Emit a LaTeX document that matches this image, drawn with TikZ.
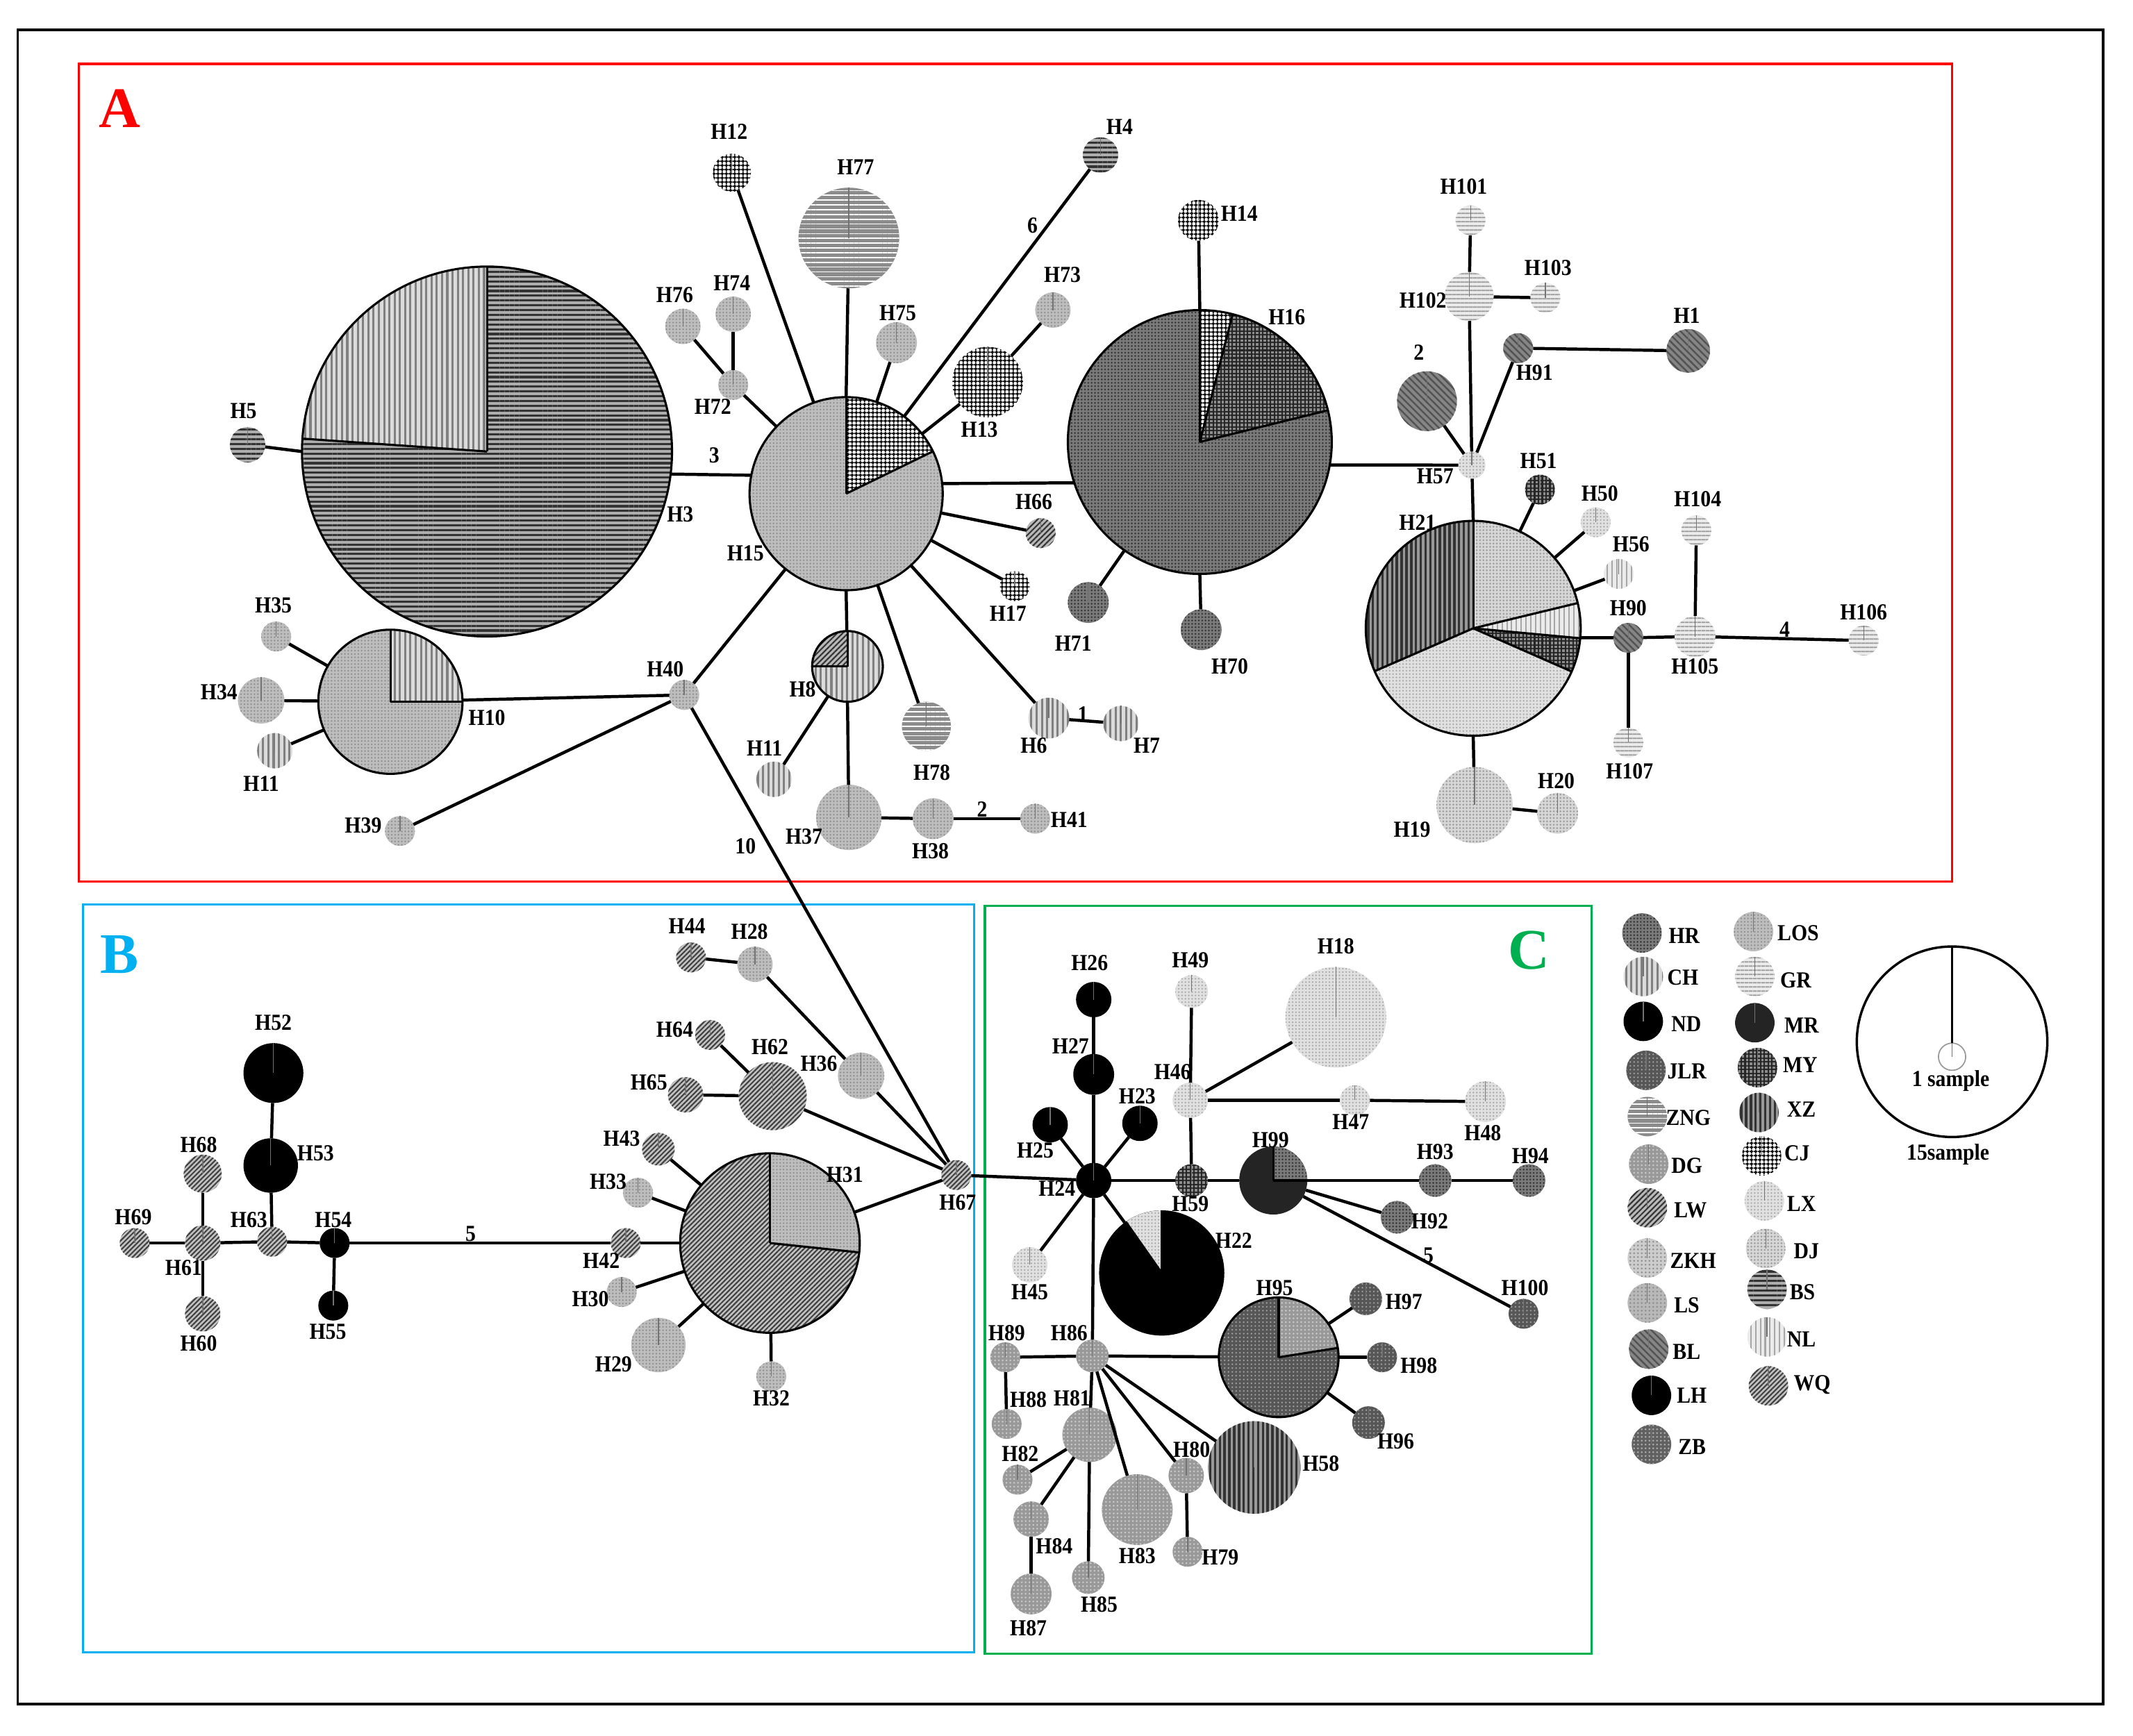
\documentclass[tikz,border=0pt]{standalone}
\usepackage{fontspec}
\setmainfont{Liberation Serif}
\newfontfamily\labf[FakeStretch=0.9]{Liberation Serif}
\usetikzlibrary{patterns.meta}
\definecolor{colA}{RGB}{255,0,0}
\definecolor{colB}{RGB}{0,176,240}
\definecolor{colC}{RGB}{0,176,80}
\tikzset{
  hapn/.style={circle, inner sep=0pt, outer sep=0pt},
  bold/.style={draw=black, line width=0.45pt},
  radl/.style={draw=black!55, line width=0.2pt},
  edge/.style={line width=0.65pt, draw=black},
  sep/.style={line width=0.45pt, draw=black},
  labn/.style={font=\fontsize{4.8}{5}\labf\bfseries, inner sep=0pt},
  bigl/.style={font=\fontsize{12}{12}\selectfont\bfseries, inner sep=0pt},
  frameA/.style={draw=colA, line width=0.45pt},
  frameB/.style={draw=colB, line width=0.45pt},
  frameC/.style={draw=colC, line width=0.45pt},
  pHR/.style={preaction={fill=black!52}, pattern={Dots[radius=0.2pt,distance=0.7pt]}, pattern color=black!80},
  pCH/.style={preaction={fill=black!14}, pattern={Lines[angle=90,distance=1.1pt,line width=0.45pt]}, pattern color=black!50},
  pND/.style={fill=black},
  pJLR/.style={preaction={fill=black!66}, pattern={Dots[radius=0.18pt,distance=0.8pt]}, pattern color=black!35},
  pZNG/.style={preaction={fill=black!45}, pattern={Lines[angle=0,distance=1pt,line width=0.25pt]}, pattern color=white},
  pDG/.style={preaction={fill=black!40}, pattern={Dots[radius=0.2pt,distance=0.8pt]}, pattern color=black!20},
  pLW/.style={preaction={fill=black!28}, pattern={Lines[angle=45,distance=0.8pt,line width=0.3pt]}, pattern color=black!80},
  pZKH/.style={preaction={fill=black!20}, pattern={Dots[radius=0.2pt,distance=0.8pt]}, pattern color=black!45},
  pLS/.style={preaction={fill=black!28}, pattern={Dots[radius=0.2pt,distance=0.8pt]}, pattern color=black!45},
  pBL/.style={preaction={fill=black!48}, pattern={Lines[angle=-45,distance=1pt,line width=0.35pt]}, pattern color=black!68},
  pLH/.style={fill=black},
  pZB/.style={preaction={fill=black!62}, pattern={Dots[radius=0.2pt,distance=0.8pt]}, pattern color=black!30},
  pLOS/.style={preaction={fill=black!26}, pattern={Dots[radius=0.18pt,distance=0.7pt]}, pattern color=black!45},
  pGR/.style={preaction={fill=black!8}, pattern={Lines[angle=0,distance=0.9pt,line width=0.3pt]}, pattern color=black!40},
  pMR/.style={fill=black!86},
  pMY/.style={preaction={fill=black!45}, pattern={Hatch[angle=0,distance=0.8pt,line width=0.3pt]}, pattern color=black!85},
  pXZ/.style={preaction={fill=black!40}, pattern={Lines[angle=90,distance=1pt,line width=0.5pt]}, pattern color=black!80},
  pCJ/.style={preaction={fill=white}, pattern={Hatch[angle=0,distance=0.9pt,line width=0.3pt]}, pattern color=black},
  pLX/.style={preaction={fill=black!12}, pattern={Dots[radius=0.18pt,distance=0.7pt]}, pattern color=black!35},
  pDJ/.style={preaction={fill=black!16}, pattern={Dots[radius=0.2pt,distance=0.7pt]}, pattern color=black!40},
  pBS/.style={preaction={fill=black!32}, pattern={Lines[angle=0,distance=1pt,line width=0.45pt]}, pattern color=black!80},
  pNL/.style={preaction={fill=black!8}, pattern={Lines[angle=90,distance=1pt,line width=0.3pt]}, pattern color=black!35},
  pWQ/.style={preaction={fill=black!24}, pattern={Lines[angle=45,distance=0.7pt,line width=0.3pt]}, pattern color=black!75},
}
% name, x, y, radius, population style
\newcommand\hap[5]{%
  \node[hapn,#5,minimum size=#4*0.02cm] (#1) at (#2,-#3) {};
  \draw[radl] (#1.north) -- (#1.center);}
% node, radius, start angle, end angle, style
\newcommand\pslice[5]{\path[#5] (#1.center) -- ++(#3:#2) arc[start angle=#3,end angle=#4,radius=#2] -- cycle;}
\newcommand\sepl[3]{\draw[sep] (#1.center) -- ++(#3:#2);}
\newcommand\outl[2]{\draw[bold] (#1.center) circle[radius=#2];}
% name, text, x, y
\newcommand\hlab[4]{\node[labn] (#1) at (#3,-#4) {#2};}
\newcommand\legw[4]{\node[labn, anchor=west] (#1) at (#3,-#4) {#2};}
\begin{document}
\begin{tikzpicture}[x=0.01cm,y=0.01cm]
\useasboundingbox (0,0) rectangle (1568,-1276);
\fill[white] (0,0) rectangle (1568,-1276);
% frames
\draw[line width=0.5pt] (13,-22) rectangle (1546,-1253);
\draw[frameA] (58,-47) rectangle (1435,-648);
\draw[frameB] (61,-665) rectangle (716,-1215);
\draw[frameC] (724,-666) rectangle (1170,-1216);
\node[bigl, text=colA] (lettA) at (88,-80) {A};
\node[bigl, text=colB] (lettB) at (88,-702) {B};
\node[bigl, text=colC] (lettC) at (1124,-699) {C};

% ================= nodes A =================
\hap{H3}{358}{332}{136}{pBS}
\hap{H5}{182}{327}{13}{pBS}
\hap{H15}{622}{363}{71}{pLOS}
\hap{H12}{538}{127}{14}{pCJ}
\hap{H77}{624}{175}{37}{pZNG}
\hap{H4}{809}{114}{13}{pBS}
\hap{H76}{502}{240}{13}{pLOS}
\hap{H74}{539}{231}{13}{pLOS}
\hap{H72}{539}{283}{11}{pLOS}
\hap{H75}{659}{252}{15}{pLOS}
\hap{H73}{774}{228}{13}{pLOS}
\hap{H13}{726}{281}{26}{pCJ}
\hap{H66}{765}{392}{11}{pLW}
\hap{H17}{746}{431}{11}{pCJ}
\hap{H16}{882}{325}{97}{pHR}
\hap{H71}{800}{443}{15}{pHR}
\hap{H70}{883}{463}{15}{pHR}
\hap{H14}{881}{162}{15}{pCJ}
\hap{H57}{1082}{342}{10}{pLX}
\hap{H2}{1049}{295}{22}{pBL}
\hap{H102}{1080}{218}{18}{pGR}
\hap{H101}{1081}{162}{11}{pGR}
\hap{H103}{1136}{219}{11}{pGR}
\hap{H91}{1116}{256}{11}{pBL}
\hap{H1}{1241}{258}{16}{pBL}
\hap{H21}{1083}{462}{79}{pLX}
\hap{H51}{1132}{360}{11}{pMY}
\hap{H50}{1173}{384}{11}{pLX}
\hap{H56}{1190}{422}{11}{pNL}
\hap{H90}{1197}{469}{11}{pBL}
\hap{H105}{1246}{468}{15}{pGR}
\hap{H104}{1247}{390}{11}{pGR}
\hap{H106}{1370}{471}{11}{pGR}
\hap{H107}{1197}{546}{11}{pGR}
\hap{H19}{1084}{592}{28}{pDJ}
\hap{H20}{1145}{598}{15}{pDJ}
\hap{H10}{287}{516}{53}{pLOS}
\hap{H35}{203}{468}{11}{pLOS}
\hap{H34}{192}{515}{17}{pLOS}
\hap{H11a}{202}{552}{13}{pCH}
\hap{H40}{503}{511}{11}{pLOS}
\hap{H39}{294}{611}{11}{pLOS}
\hap{H8}{623}{490}{26}{pCH}
\hap{H11b}{569}{573}{13}{pCH}
\hap{H37}{624}{601}{24}{pLOS}
\hap{H38}{686}{602}{15}{pLOS}
\hap{H41}{761}{602}{11}{pLOS}
\hap{H78}{681}{534}{18}{pZNG}
\hap{H6}{771}{528}{15}{pCH}
\hap{H7}{824}{532}{13}{pCH}

% pies A
\pslice{H3}{136}{90}{176}{pCH}
\sepl{H3}{136}{90}\sepl{H3}{136}{176}\outl{H3}{136}
\pslice{H15}{71}{26}{90}{pCJ}
\sepl{H15}{71}{90}\sepl{H15}{71}{26}\outl{H15}{71}
\pslice{H16}{97}{13.9}{75.6}{pMY}
\pslice{H16}{97}{75.6}{90}{pCJ}
\sepl{H16}{97}{90}\sepl{H16}{97}{75.6}\sepl{H16}{97}{13.9}\outl{H16}{97}
\pslice{H21}{79}{90}{203.5}{pXZ}
\pslice{H21}{79}{-23.7}{-5.3}{pMY}
\pslice{H21}{79}{-5.3}{13.6}{pNL}
\pslice{H21}{79}{13.6}{90}{pDJ}
\sepl{H21}{79}{90}\sepl{H21}{79}{203.5}\sepl{H21}{79}{-23.7}\sepl{H21}{79}{-5.3}\sepl{H21}{79}{13.6}\outl{H21}{79}
\pslice{H10}{53}{0}{90}{pCH}
\sepl{H10}{53}{0}\sepl{H10}{53}{90}\outl{H10}{53}
\pslice{H8}{26}{90}{180}{pLW}
\sepl{H8}{26}{90}\sepl{H8}{26}{180}\outl{H8}{26}

% edges A
\draw[edge] (H5) -- (H3.180);
\draw[edge] (H3.-7) -- (H15.169);
\draw[edge] (H12) -- (H15);
\draw[edge] (H77) -- (H15.90);
\draw[edge] (H4) -- (H15);
\draw[edge] (H72) -- (H15);
\draw[edge] (H76) -- (H72);
\draw[edge] (H74) -- (H72);
\draw[edge] (H75) -- (H15);
\draw[edge] (H13) -- (H15);
\draw[edge] (H73) -- (H13);
\draw[edge] (H15.6.5) -- (H16.198);
\draw[edge] (H66) -- (H15);
\draw[edge] (H17) -- (H15);
\draw[edge] (H8) -- (H15.-90);
\draw[edge] (H78) -- (H15);
\draw[edge] (H6) -- (H15);
\draw[edge] (H6) -- (H7);
\draw[edge] (H40) -- (H15);
\draw[edge] (H10) -- (H40);
\draw[edge] (H39) -- (H40);
\draw[edge] (H35) -- (H10);
\draw[edge] (H34) -- (H10);
\draw[edge] (H11a) -- (H10);
\draw[edge] (H11b) -- (H8);
\draw[edge] (H37) -- (H8.-90);
\draw[edge] (H37) -- (H38);
\draw[edge] (H38) -- (H41);
\draw[edge] (H14) -- (H16.90);
\draw[edge] (H71) -- (H16);
\draw[edge] (H70) -- (H16.-90);
\draw[edge] (H16.-10) -- (H57);
\draw[edge] (H2) -- (H57);
\draw[edge] (H102) -- (H57);
\draw[edge] (H101) -- (H102);
\draw[edge] (H102) -- (H103);
\draw[edge] (H91) -- (H57);
\draw[edge] (H91) -- (H1);
\draw[edge] (H57) -- (H21.90);
\draw[edge] (H51) -- (H21);
\draw[edge] (H50) -- (H21);
\draw[edge] (H56) -- (H21);
\draw[edge] (H21.-5) -- (H90);
\draw[edge] (H90) -- (H105);
\draw[edge] (H104) -- (H105);
\draw[edge] (H105) -- (H106);
\draw[edge] (H90) -- (H107);
\draw[edge] (H21.-90) -- (H19);
\draw[edge] (H19) -- (H20);

% labels A
\hlab{tH3}{H3}{500}{378}
\hlab{tH5}{H5}{179}{302}
\hlab{tH15}{H15}{548}{407}
\hlab{tH12}{H12}{536}{97}
\hlab{tH77}{H77}{629}{123}
\hlab{tH4}{H4}{823}{93}
\hlab{tH76}{H76}{496}{217}
\hlab{tH74}{H74}{538}{208}
\hlab{tH72}{H72}{524}{299}
\hlab{tH75}{H75}{660}{230}
\hlab{tH73}{H73}{781}{202}
\hlab{tH13}{H13}{720}{316}
\hlab{tH66}{H66}{760}{369}
\hlab{tH17}{H17}{741}{451}
\hlab{tH16}{H16}{946}{233}
\hlab{tH71}{H71}{789}{473}
\hlab{tH70}{H70}{904}{490}
\hlab{tH14}{H14}{911}{157}
\hlab{tH57}{H57}{1055}{350}
\hlab{tH2}{2}{1043}{259}
\hlab{tH102}{H102}{1046}{221}
\hlab{tH101}{H101}{1076}{137}
\hlab{tH103}{H103}{1138}{197}
\hlab{tH91}{H91}{1128}{274}
\hlab{tH1}{H1}{1240}{232}
\hlab{tH21}{H21}{1042}{384}
\hlab{tH51}{H51}{1131}{339}
\hlab{tH50}{H50}{1176}{363}
\hlab{tH56}{H56}{1199}{400}
\hlab{tH90}{H90}{1197}{447}
\hlab{tH105}{H105}{1246}{490}
\hlab{tH104}{H104}{1248}{367}
\hlab{tH106}{H106}{1370}{450}
\hlab{tH107}{H107}{1198}{567}
\hlab{tH19}{H19}{1038}{610}
\hlab{tH20}{H20}{1144}{574}
\hlab{tH10}{H10}{358}{528}
\hlab{tH35}{H35}{201}{445}
\hlab{tH34}{H34}{161}{509}
\hlab{tH11a}{H11}{192}{576}
\hlab{tH40}{H40}{489}{492}
\hlab{tH39}{H39}{267}{607}
\hlab{tH8}{H8}{590}{507}
\hlab{tH11b}{H11}{562}{550}
\hlab{tH37}{H37}{591}{615}
\hlab{tH38}{H38}{684}{626}
\hlab{tH41}{H41}{786}{603}
\hlab{tH78}{H78}{685}{568}
\hlab{tH6}{H6}{760}{548}
\hlab{tH7}{H7}{843}{548}
\hlab{n3}{3}{525}{335}
\hlab{n6}{6}{759}{166}
\hlab{n10}{10}{548}{622}
\hlab{n2}{2}{722}{595}
\hlab{n1}{1}{796}{525}
\hlab{n4}{4}{1312}{463}

% ================= nodes B =================
\hap{H52}{201}{789}{22}{pND}
\hap{H53}{199}{857}{20}{pND}
\hap{H63}{200}{913}{11}{pWQ}
\hap{H61}{149}{914}{13}{pWQ}
\hap{H68}{149}{863}{14}{pWQ}
\hap{H69}{99}{914}{11}{pWQ}
\hap{H60}{149}{966}{13}{pWQ}
\hap{H54}{246}{914}{11}{pND}
\hap{H55}{245}{960}{11}{pND}
\hap{H42}{460}{914}{11}{pWQ}
\hap{H31}{566}{914}{66}{pWQ}
\hap{H43}{484}{845}{12}{pWQ}
\hap{H33}{469}{877}{11}{pLOS}
\hap{H30}{457}{950}{11}{pLOS}
\hap{H29}{484}{989}{20}{pLOS}
\hap{H32}{567}{1012}{11}{pLOS}
\hap{H62}{568}{806}{25}{pWQ}
\hap{H64}{522}{761}{11}{pWQ}
\hap{H65}{504}{805}{13}{pWQ}
\hap{H36}{633}{791}{17}{pLOS}
\hap{H28}{555}{709}{13}{pLOS}
\hap{H44}{508}{704}{11}{pWQ}
\hap{H67}{703}{864}{11}{pWQ}

\pslice{H31}{66}{-6}{90}{pLOS}
\sepl{H31}{66}{90}\sepl{H31}{66}{-6}\outl{H31}{66}

\draw[edge] (H52) -- (H53);
\draw[edge] (H53) -- (H63);
\draw[edge] (H69) -- (H61);
\draw[edge] (H68) -- (H61);
\draw[edge] (H61) -- (H60);
\draw[edge] (H61) -- (H63);
\draw[edge] (H63) -- (H54);
\draw[edge] (H54) -- (H55);
\draw[edge] (H54) -- (H42);
\draw[edge] (H42) -- (H31);
\draw[edge] (H43) -- (H31);
\draw[edge] (H33) -- (H31);
\draw[edge] (H30) -- (H31);
\draw[edge] (H29) -- (H31);
\draw[edge] (H32) -- (H31);
\draw[edge] (H31) -- (H67);
\draw[edge] (H62) -- (H67);
\draw[edge] (H64) -- (H62);
\draw[edge] (H65) -- (H62);
\draw[edge] (H36) -- (H67);
\draw[edge] (H28) -- (H36);
\draw[edge] (H44) -- (H28);
\draw[edge] (H40) -- (H67);

\hlab{tH52}{H52}{201}{752}
\hlab{tH53}{H53}{232}{848}
\hlab{tH63}{H63}{183}{897}
\hlab{tH61}{H61}{135}{932}
\hlab{tH68}{H68}{146}{842}
\hlab{tH69}{H69}{98}{895}
\hlab{tH60}{H60}{146}{988}
\hlab{tH54}{H54}{245}{897}
\hlab{tH55}{H55}{241}{979}
\hlab{tH42}{H42}{442}{927}
\hlab{tH31}{H31}{621}{864}
\hlab{tH43}{H43}{457}{837}
\hlab{tH33}{H33}{447}{869}
\hlab{tH30}{H30}{434}{955}
\hlab{tH29}{H29}{451}{1003}
\hlab{tH32}{H32}{567}{1028}
\hlab{tH62}{H62}{566}{770}
\hlab{tH64}{H64}{496}{757}
\hlab{tH65}{H65}{477}{796}
\hlab{tH36}{H36}{602}{782}
\hlab{tH28}{H28}{551}{685}
\hlab{tH44}{H44}{505}{681}
\hlab{tH67}{H67}{704}{884}
\hlab{n5a}{5}{346}{907}

% ================= nodes C =================
\hap{H24}{804}{868}{13}{pND}
\hap{H26}{804}{735}{13}{pND}
\hap{H27}{804}{790}{15}{pND}
\hap{H25}{772}{827}{13}{pND}
\hap{H23}{838}{826}{13}{pND}
\hap{H45}{757}{930}{13}{pLX}
\hap{H22}{854}{936}{46}{pND}
\hap{H59}{876}{868}{12}{pMY}
\hap{H46}{875}{809}{13}{pLX}
\hap{H49}{876}{729}{12}{pLX}
\hap{H18}{982}{748}{37}{pLX}
\hap{H47}{996}{809}{11}{pLX}
\hap{H48}{1092}{810}{15}{pLX}
\hap{H99}{936}{868}{25}{pMR}
\hap{H93}{1055}{868}{12}{pHR}
\hap{H94}{1124}{868}{12}{pHR}
\hap{H92}{1027}{895}{12}{pHR}
\hap{H100}{1120}{966}{11}{pJLR}
\hap{H95}{940}{998}{44}{pJLR}
\hap{H97}{1004}{955}{12}{pJLR}
\hap{H98}{1016}{998}{11}{pJLR}
\hap{H96}{1006}{1046}{12}{pJLR}
\hap{H86}{803}{997}{12}{pDG}
\hap{H89}{739}{998}{11}{pDG}
\hap{H88}{740}{1047}{11}{pDG}
\hap{H81}{801}{1055}{20}{pDG}
\hap{H82}{748}{1088}{11}{pDG}
\hap{H84}{758}{1117}{13}{pDG}
\hap{H87}{758}{1172}{15}{pDG}
\hap{H85}{800}{1160}{12}{pDG}
\hap{H83}{836}{1110}{26}{pDG}
\hap{H80}{872}{1085}{13}{pDG}
\hap{H79}{873}{1141}{11}{pDG}
\hap{H58}{922}{1079}{34}{pXZ}

\pslice{H22}{46}{90}{125}{pLX}
\sepl{H22}{46}{90}\sepl{H22}{46}{125}
\pslice{H99}{25}{0}{90}{pHR}
\sepl{H99}{25}{0}\sepl{H99}{25}{90}
\pslice{H95}{44}{9}{90}{pDG}
\sepl{H95}{44}{9}\sepl{H95}{44}{90}\outl{H95}{44}

\draw[edge] (H67) -- (H24);
\draw[edge] (H24) -- (H27);
\draw[edge] (H27) -- (H26);
\draw[edge] (H24) -- (H25);
\draw[edge] (H24) -- (H23);
\draw[edge] (H24) -- (H45);
\draw[edge] (H24) -- (H22);
\draw[edge] (H24) -- (H86);
\draw[edge] (H24) -- (H59);
\draw[edge] (H59) -- (H46);
\draw[edge] (H46) -- (H49);
\draw[edge] (H46) -- (H18);
\draw[edge] (H46) -- (H47);
\draw[edge] (H47) -- (H48);
\draw[edge] (H59) -- (H99);
\draw[edge] (H99) -- (H93);
\draw[edge] (H93) -- (H94);
\draw[edge] (H99) -- (H92);
\draw[edge] (H99) -- (H100);
\draw[edge] (H86) -- (H89);
\draw[edge] (H89) -- (H88);
\draw[edge] (H86) -- (H81);
\draw[edge] (H81) -- (H82);
\draw[edge] (H81) -- (H84);
\draw[edge] (H84) -- (H87);
\draw[edge] (H81) -- (H85);
\draw[edge] (H86) -- (H83);
\draw[edge] (H86) -- (H80);
\draw[edge] (H80) -- (H79);
\draw[edge] (H86) -- (H58);
\draw[edge] (H86) -- (H95);
\draw[edge] (H95) -- (H97);
\draw[edge] (H95) -- (H98);
\draw[edge] (H95) -- (H96);

\hlab{tH24}{H24}{777}{874}
\hlab{tH26}{H26}{801}{708}
\hlab{tH27}{H27}{787}{769}
\hlab{tH25}{H25}{761}{846}
\hlab{tH23}{H23}{836}{806}
\hlab{tH45}{H45}{757}{950}
\hlab{tH22}{H22}{907}{912}
\hlab{tH59}{H59}{875}{885}
\hlab{tH46}{H46}{862}{788}
\hlab{tH49}{H49}{875}{706}
\hlab{tH18}{H18}{982}{696}
\hlab{tH47}{H47}{993}{825}
\hlab{tH48}{H48}{1090}{833}
\hlab{tH99}{H99}{934}{838}
\hlab{tH93}{H93}{1055}{847}
\hlab{tH94}{H94}{1125}{850}
\hlab{tH92}{H92}{1051}{898}
\hlab{tH100}{H100}{1121}{947}
\hlab{tH95}{H95}{937}{947}
\hlab{tH97}{H97}{1032}{957}
\hlab{tH98}{H98}{1043}{1004}
\hlab{tH96}{H96}{1026}{1060}
\hlab{tH86}{H86}{786}{980}
\hlab{tH89}{H89}{740}{980}
\hlab{tH88}{H88}{756}{1029}
\hlab{tH81}{H81}{788}{1028}
\hlab{tH82}{H82}{750}{1069}
\hlab{tH84}{H84}{775}{1137}
\hlab{tH87}{H87}{756}{1197}
\hlab{tH85}{H85}{808}{1180}
\hlab{tH83}{H83}{836}{1144}
\hlab{tH80}{H80}{876}{1066}
\hlab{tH79}{H79}{897}{1145}
\hlab{tH58}{H58}{971}{1076}
\hlab{n5b}{5}{1050}{923}

% ================= legend =================
\hap{gHR}{1207}{686}{14.5}{pHR}   \legw{tgHR}{HR}{1226}{688}
\hap{gCH}{1208}{718}{14.5}{pCH}   \legw{tgCH}{CH}{1225}{719}
\hap{gND}{1208}{751}{14.5}{pND}   \legw{tgND}{ND}{1228}{753}
\hap{gJLR}{1210}{787}{14.5}{pJLR} \legw{tgJLR}{JLR}{1225}{788}
\hap{gZNG}{1211}{821}{14.5}{pZNG} \legw{tgZNG}{ZNG}{1224}{822}
\hap{gDG}{1212}{856}{14.5}{pDG}   \legw{tgDG}{DG}{1228}{857}
\hap{gLW}{1211}{888}{14.5}{pLW}   \legw{tgLW}{LW}{1230}{890}
\hap{gZKH}{1211}{925}{14.5}{pZKH} \legw{tgZKH}{ZKH}{1227}{927}
\hap{gLS}{1211}{958}{14.5}{pLS}   \legw{tgLS}{LS}{1230}{960}
\hap{gBL}{1212}{992}{14.5}{pBL}   \legw{tgBL}{BL}{1229}{994}
\hap{gLH}{1214}{1026}{14.5}{pLH}  \legw{tgLH}{LH}{1232}{1026}
\hap{gZB}{1214}{1062}{14.5}{pZB}  \legw{tgZB}{ZB}{1233}{1064}
\hap{gLOS}{1289}{685}{14.5}{pLOS} \legw{tgLOS}{LOS}{1306}{686}
\hap{gGR}{1290}{718}{14.5}{pGR}   \legw{tgGR}{GR}{1308}{721}
\hap{gMR}{1290}{752}{14.5}{pMR}   \legw{tgMR}{MR}{1311}{754}
\hap{gMY}{1292}{785}{14.5}{pMY}   \legw{tgMY}{MY}{1310}{783}
\hap{gXZ}{1293}{818}{14.5}{pXZ}   \legw{tgXZ}{XZ}{1313}{816}
\hap{gCJ}{1295}{850}{14.5}{pCJ}   \legw{tgCJ}{CJ}{1311}{848}
\hap{gLX}{1297}{883}{14.5}{pLX}   \legw{tgLX}{LX}{1313}{885}
\hap{gDJ}{1298}{918}{14.5}{pDJ}   \legw{tgDJ}{DJ}{1318}{920}
\hap{gBS}{1299}{948}{14.5}{pBS}   \legw{tgBS}{BS}{1315}{950}
\hap{gNL}{1299}{983}{14.5}{pNL}   \legw{tgNL}{NL}{1313}{985}
\hap{gWQ}{1300}{1019}{14.5}{pWQ}  \legw{tgWQ}{WQ}{1318}{1018}

\node[hapn, draw=black, line width=0.5pt, minimum size=1.4cm] (lbig) at (1435,-766) {};
\node[hapn, draw=black!40, line width=0.25pt, minimum size=0.2cm] (lsmall) at (1435,-777) {};
\draw[line width=0.5pt] (lbig.north) -- (lsmall.north);
\draw[radl] (lsmall.north) -- (lsmall.center);
\hlab{t1s}{1 sample}{1434}{795}
\hlab{t15s}{15sample}{1432}{849}
\end{tikzpicture}
\end{document}
